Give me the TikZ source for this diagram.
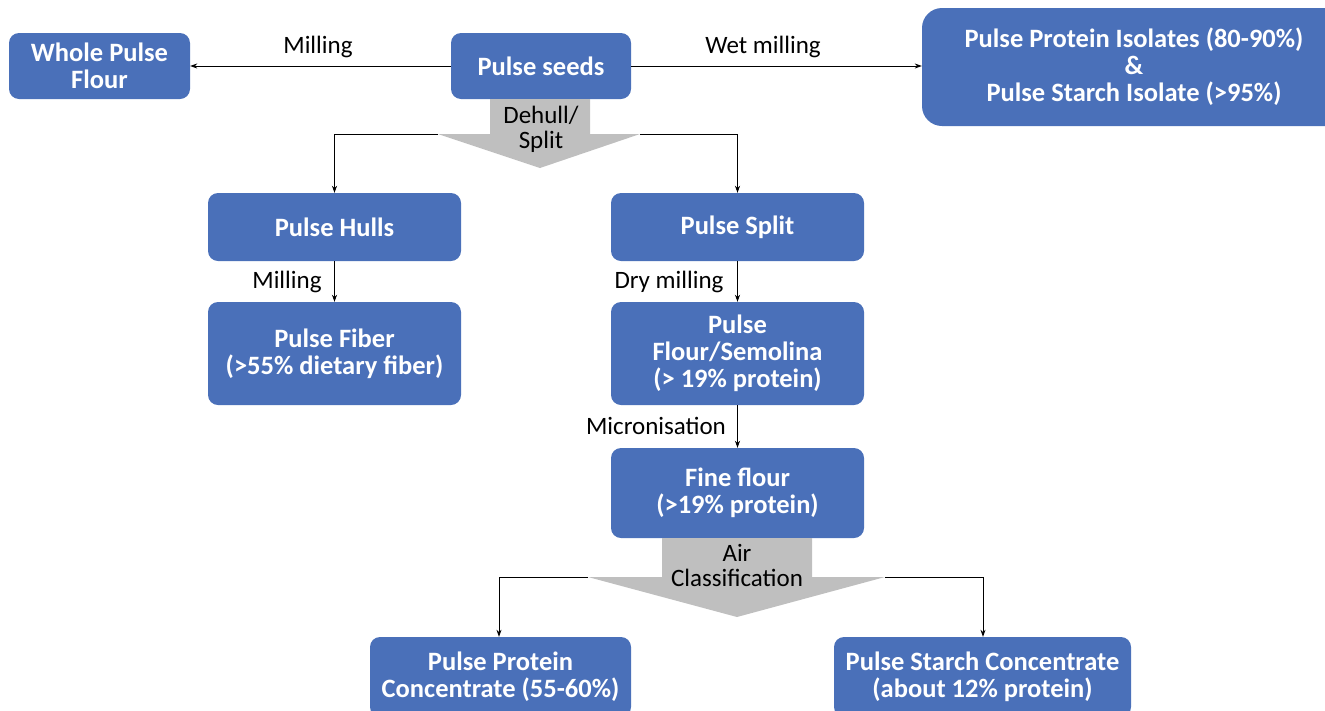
\documentclass[tikz,border=0pt]{standalone}
\usepackage{fontspec}
\setmainfont{Carlito}
\usetikzlibrary{arrows.meta}
\definecolor{boxblue}{HTML}{4A70B9}
\definecolor{arrgray}{HTML}{BFBFBF}
\begin{document}
\begin{tikzpicture}[x=1pt,y=-1pt,
 box/.style={fill=boxblue, rounded corners=10pt, text=white, font=\fontsize{26.5}{27}\selectfont\bfseries, align=center, inner sep=0pt},
 lbl/.style={font=\fontsize{25}{25}\selectfont, text=black, inner sep=0pt, align=center},
 conn/.style={-{Stealth[length=7pt,width=5pt]}, line width=0.8pt},
 bigarrow/.style={fill=arrgray, draw=none}
]
\useasboundingbox (0,0) rectangle (1325,710);
% boxes
\node[box, minimum width=181pt, minimum height=66pt] (whole) at (99.5,66) {Whole Pulse\\Flour};
\node[box, minimum width=180pt, minimum height=66pt] (seeds) at (541,66) {Pulse seeds};
\node[box, minimum width=424pt, minimum height=118pt, rounded corners=20pt] (iso) at (1134,67) {Pulse Protein Isolates (80-90\%)\\\&\\Pulse Starch Isolate (>95\%)};
\node[box, minimum width=253pt, minimum height=68pt] (hulls) at (334.5,227) {Pulse Hulls};
\node[box, minimum width=253pt, minimum height=68pt] (split) at (737.5,227) {Pulse Split};
\node[box, minimum width=253pt, minimum height=103pt] (fiber) at (334.5,353.5) {Pulse Fiber\\(>55\% dietary fiber)};
\node[box, minimum width=253pt, minimum height=103pt] (flour) at (737.5,353.5) {Pulse\\Flour/Semolina\\(> 19\% protein)};
\node[box, minimum width=253pt, minimum height=90pt] (fine) at (737.5,493) {Fine flour\\(>19\% protein)};
\node[box, minimum width=261pt, minimum height=80pt] (ppc) at (500.5,677) {Pulse Protein\\Concentrate (55-60\%)};
\node[box, minimum width=297pt, minimum height=80pt] (psc) at (982.5,677) {Pulse Starch Concentrate\\(about 12\% protein)};
% big gray arrows
\fill[bigarrow] (490,99) -- (590,99) -- (590,134) -- (640,134) -- (540,168) -- (438,134) -- (490,134) -- cycle;
\coordinate (d1l) at (438,134);
\coordinate (d1r) at (640,134);
\node[lbl] (dehull) at (541,129) {Dehull/\\Split};
\fill[bigarrow] (662,538) -- (812,538) -- (812,577) -- (885,577) -- (737,617) -- (588,577) -- (662,577) -- cycle;
\coordinate (d2l) at (588,577);
\coordinate (d2r) at (885,577);
\node[lbl] (aircl) at (737,565) {Air\\Classification};
% connectors
\draw[conn] (seeds.west) -- (whole.east);
\draw[conn] (seeds.east) -- (iso.west |- seeds.east);
\draw[conn] (d1l) -| (hulls.north);
\draw[conn] (d1r) -| (split.north);
\draw[conn] (hulls.south) -- (fiber.north);
\draw[conn] (split.south) -- (flour.north);
\draw[conn] (flour.south) -- (fine.north);
\draw[conn] (d2l) -| (ppc.north -| 499,0);
\draw[conn] (d2r) -| (psc.north -| 983,0);
% labels
\node[lbl] (l1) at (318,47) {Milling};
\node[lbl] (l2) at (763,47) {Wet milling};
\node[lbl] (l3) at (287,282) {Milling};
\node[lbl] (l4) at (669,282) {Dry milling};
\node[lbl] (l5) at (656,426) {Micronisation};
\end{tikzpicture}
\end{document}
